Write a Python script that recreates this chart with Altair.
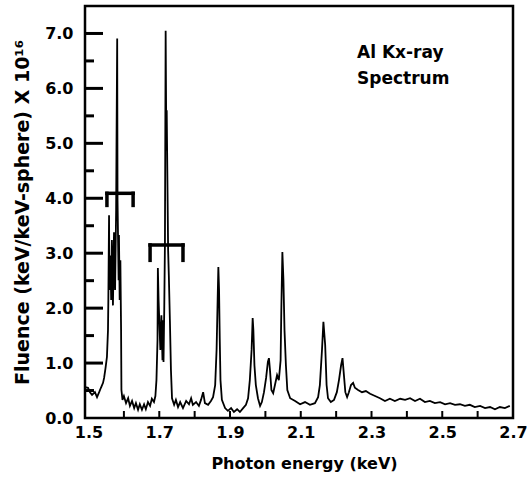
import altair as alt
import pandas as pd

# Photon energy (keV) and fluence (keV/keV-sphere x 1e16)
energy = [
    1.490, 1.4985, 1.504, 1.510, 1.518, 1.524, 1.530, 1.535, 1.541, 1.544, 1.548,
    1.552, 1.555, 1.556, 1.558, 1.559, 1.562, 1.564, 1.566, 1.569, 1.572, 1.575,
    1.578, 1.579, 1.581, 1.582, 1.585, 1.586, 1.588, 1.590, 1.592, 1.593, 1.596,
    1.600, 1.606, 1.612, 1.617, 1.623, 1.629, 1.634, 1.640, 1.645, 1.651, 1.657,
    1.662, 1.668, 1.674, 1.679, 1.685, 1.689, 1.692, 1.695, 1.696, 1.698, 1.701,
    1.703, 1.706, 1.709, 1.711, 1.712, 1.714, 1.716, 1.718, 1.720, 1.721, 1.723,
    1.725, 1.727, 1.730, 1.733, 1.736, 1.742, 1.747, 1.753, 1.759, 1.767, 1.776,
    1.784, 1.790, 1.795, 1.804, 1.812, 1.818, 1.824, 1.829, 1.838, 1.846, 1.852,
    1.858, 1.862, 1.865, 1.867, 1.869, 1.871, 1.873, 1.877, 1.886, 1.894, 1.903,
    1.911, 1.920, 1.928, 1.937, 1.945, 1.951, 1.956, 1.961, 1.964, 1.966, 1.969,
    1.973, 1.979, 1.985, 1.990, 1.996, 2.002, 2.007, 2.010, 2.013, 2.017, 2.022,
    2.027, 2.033, 2.038, 2.043, 2.045, 2.048, 2.051, 2.054, 2.058, 2.062, 2.070,
    2.084, 2.098, 2.112, 2.126, 2.140, 2.149, 2.154, 2.160, 2.164, 2.169, 2.173,
    2.177, 2.185, 2.194, 2.202, 2.208, 2.214, 2.218, 2.222, 2.226, 2.231, 2.236,
    2.242, 2.248, 2.253, 2.262, 2.273, 2.284, 2.296, 2.310, 2.324, 2.338, 2.352,
    2.366, 2.381, 2.395, 2.409, 2.423, 2.437, 2.451, 2.465, 2.479, 2.494, 2.508,
    2.522, 2.536, 2.550, 2.564, 2.578, 2.592, 2.607, 2.621, 2.635, 2.649, 2.663,
    2.677, 2.691,
]
fluence = [
    0.56, 0.55, 0.47, 0.42, 0.47, 0.38, 0.47, 0.55, 0.64, 0.73, 0.91,
    1.11, 1.60, 2.15, 3.69, 2.33, 2.96, 2.15, 3.24, 2.05, 3.38, 2.33,
    3.78, 4.87, 6.91, 3.96, 2.51, 3.33, 2.15, 2.87, 1.60, 0.51, 0.33,
    0.40, 0.27, 0.36, 0.22, 0.31, 0.18, 0.27, 0.15, 0.25, 0.15, 0.25,
    0.16, 0.29, 0.22, 0.35, 0.29, 0.40, 0.69, 1.42, 2.73, 2.15, 1.60,
    1.24, 1.87, 1.05, 1.78, 1.02, 1.96, 3.18, 7.05, 4.87, 5.60, 4.33,
    3.05, 2.60, 1.78, 0.87, 0.36, 0.24, 0.33, 0.20, 0.29, 0.18, 0.31,
    0.25, 0.36, 0.24, 0.29, 0.22, 0.33, 0.47, 0.27, 0.24, 0.31, 0.38,
    0.60, 1.24, 2.15, 2.75, 2.33, 1.42, 0.69, 0.33, 0.18, 0.13, 0.18,
    0.11, 0.16, 0.11, 0.18, 0.24, 0.36, 0.69, 1.24, 1.82, 1.60, 0.96,
    0.60, 0.36, 0.22, 0.29, 0.47, 0.73, 1.02, 1.09, 0.87, 0.51, 0.45,
    0.60, 0.78, 0.69, 1.05, 1.96, 3.02, 2.51, 1.60, 0.96, 0.51, 0.36,
    0.31, 0.25, 0.29, 0.24, 0.27, 0.38, 0.60, 1.24, 1.75, 1.33, 0.60,
    0.36, 0.29, 0.33, 0.47, 0.69, 0.96, 1.09, 0.78, 0.47, 0.38, 0.47,
    0.60, 0.64, 0.55, 0.51, 0.47, 0.49, 0.44, 0.40, 0.36, 0.31, 0.35,
    0.31, 0.35, 0.33, 0.36, 0.31, 0.35, 0.29, 0.31, 0.27, 0.29, 0.25,
    0.27, 0.24, 0.25, 0.22, 0.24, 0.20, 0.22, 0.18, 0.20, 0.16, 0.20,
    0.18, 0.22,
]

x_tick_labels = [1.5, 1.7, 1.9, 2.1, 2.3, 2.5, 2.7]
x_minor_ticks = [1.6, 1.7, 1.8, 1.9, 2.0, 2.1, 2.2, 2.3, 2.4, 2.5, 2.6]
y_tick_labels = [0.0, 1.0, 2.0, 3.0, 4.0, 5.0, 6.0, 7.0]
y_major_ticks = [1.0, 2.0, 3.0, 4.0, 5.0, 6.0, 7.0]
y_minor_ticks = [0.5, 1.5, 2.5, 3.5, 4.5, 5.5, 6.5]

# brackets over the two line groups (keV, fluence)
bracket_left = [1.552, 1.674]
bracket_right = [1.626, 1.767]
bracket_top = [4.09, 3.15]
bracket_tip = [3.87, 2.87]

note_lines = ["Al Kx-ray", "Spectrum"]
note_x = 2.259
note_y = [6.55, 6.08]

FONT = "DejaVu Sans"
XDOM = [1.49, 2.70]
YDOM = [0, 7.5]

df = pd.DataFrame({"E": energy, "F": fluence})

xs = alt.Scale(domain=XDOM, nice=False, zero=False)
ys = alt.Scale(domain=YDOM, nice=False, zero=False)
xaxis = alt.Axis(values=x_tick_labels, format=".1f", title="Photon energy (keV)",
                 titleX=219, titleAlign="center")
yaxis = alt.Axis(values=y_tick_labels, format=".1f",
                 title="Fluence (keV/keV-sphere) X 10\u00b9\u2076")


def X(field):
    return alt.X(field, scale=xs, axis=xaxis)


def Y(field):
    return alt.Y(field, scale=ys, axis=yaxis)


line = alt.Chart(df).mark_line(color="black", strokeWidth=1.8).encode(
    x=X("E:Q"), y=Y("F:Q"))

ymaj = alt.Chart(pd.DataFrame({"F": y_major_ticks})).mark_rule(
    color="black", strokeWidth=3).encode(
    y=Y("F:Q"), x=alt.value(0), x2=alt.value(18))
ymin = alt.Chart(pd.DataFrame({"F": y_minor_ticks})).mark_rule(
    color="black", strokeWidth=3).encode(
    y=Y("F:Q"), x=alt.value(0), x2=alt.value(9))
xmin = alt.Chart(pd.DataFrame({"E": x_minor_ticks})).mark_rule(
    color="black", strokeWidth=2).encode(
    x=X("E:Q"), y=alt.value(412), y2=alt.value(405))

segs = []
for l, r, t, b in zip(bracket_left, bracket_right, bracket_top, bracket_tip):
    segs.append({"E": l, "E2": r, "F": t, "F2": t})
    segs.append({"E": l, "E2": l, "F": t, "F2": b})
    segs.append({"E": r, "E2": r, "F": t, "F2": b})
brackets = alt.Chart(pd.DataFrame(segs)).mark_rule(
    color="black", strokeWidth=3.5, strokeCap="square").encode(
    x=X("E:Q"), x2="E2:Q", y=Y("F:Q"), y2="F2:Q")

note = alt.Chart(pd.DataFrame({"t": note_lines, "E": [note_x] * 2, "F": note_y})).mark_text(
    font=FONT, fontWeight="bold", fontSize=17, align="left", baseline="alphabetic",
    color="black").encode(x=X("E:Q"), y=Y("F:Q"), text="t:N")

chart = alt.layer(line, ymaj, ymin, xmin, brackets, note).properties(
    width=428, height=412,
    autosize=alt.AutoSizeParams(type="none"),
    padding={"left": 85, "top": 6, "right": 18, "bottom": 61},
    background="white",
).configure_view(
    stroke="black", strokeWidth=2.5
).configure_axis(
    labelFont=FONT, labelFontWeight="bold", labelFontSize=16, labelColor="black",
    titleFont=FONT, titleFontWeight="bold", titleColor="black",
    ticks=False, domain=False, grid=False, labelFlush=False, labelBound=False,
).configure_axisX(
    labelPadding=6, titleFontSize=16, titlePadding=15,
).configure_axisY(
    labelPadding=12, titleFontSize=19, titlePadding=12,
)

chart.save("out.html", embed_options={"renderer": "svg", "actions": False})
